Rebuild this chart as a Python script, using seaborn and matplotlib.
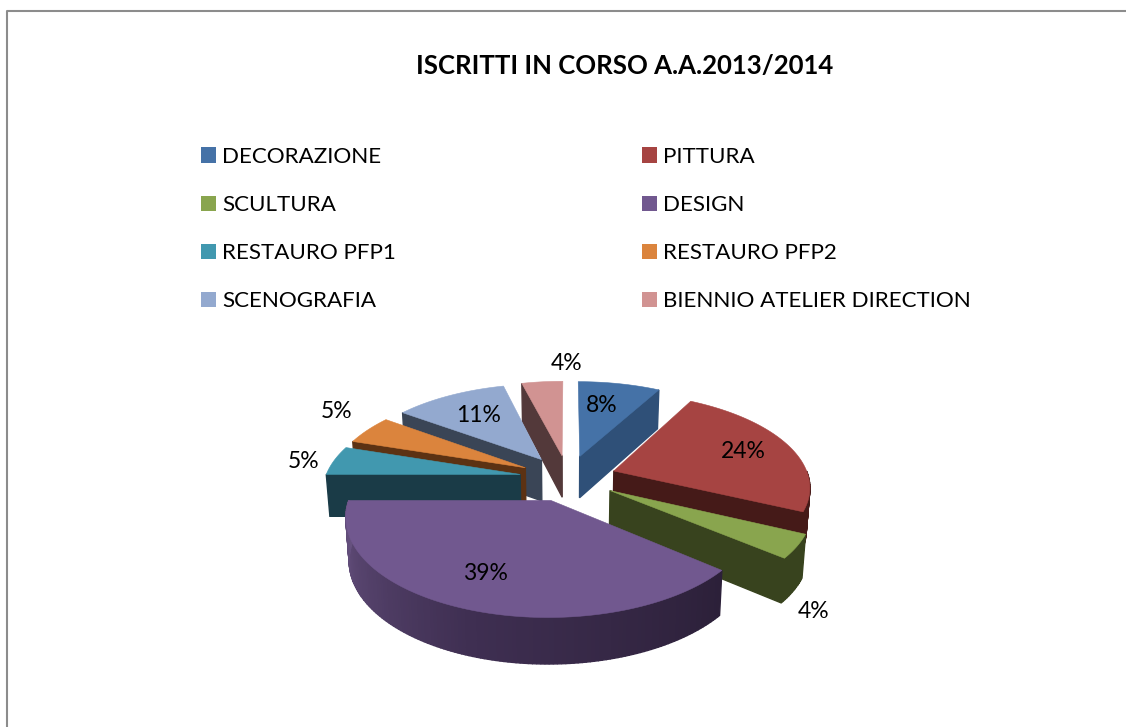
import numpy as np
import matplotlib
matplotlib.use("Agg")
import matplotlib.pyplot as plt
from matplotlib.patches import Patch
import seaborn as sns

#### Data ####
title = "ISCRITTI IN CORSO A.A.2013/2014"
categories = ["DECORAZIONE", "PITTURA", "SCULTURA", "DESIGN",
              "RESTAURO PFP1", "RESTAURO PFP2", "SCENOGRAFIA", "BIENNIO ATELIER DIRECTION"]
percent = [8, 24, 4, 39, 5, 5, 11, 4]

#### Style ####
top_colors = ["#4572A7", "#A64442", "#89A54E", "#71588F", "#4198AF", "#DB843D", "#93A9CF", "#D19392"]
wall_colors = ["#2F5078", "#451A18", "#38431E", "#2C2039", "#1A3B47", "#5C3213", "#3A4556", "#53393A"]
label_x = [602, 743, 814, 485, 304, 337, 479, 567]
label_y = [405, 451, 612, 573, 461, 411, 416, 364]

CX, CY = 568, 478   # pie centre on the page, px
RX, RY = 195, 92
PERSP = 0.15
EXPLODE = 0.25
DEPTH = 42

sns.set_theme(style="white")
plt.rcParams["font.family"] = ["Lato", "DejaVu Sans"]


def project(x, y, low=False):
    w = 1 + PERSP * y
    sx = CX + RX * x / w
    sy = CY - RY * y / w
    if low:
        sx = CX + (sx - CX) * 0.985
        sy = sy + DEPTH / np.sqrt(w)
    return sx, sy


def quad(ax, x0, y0, x1, y1, color, zorder):
    tx, ty = project(np.array([x0, x1]), np.array([y0, y1]))
    bx, by = project(np.array([x1, x0]), np.array([y1, y0]), low=True)
    ax.fill(np.r_[tx, bx], np.r_[ty, by], color=color, lw=1.0, zorder=zorder)


fig = plt.figure(figsize=(11.26, 7.27), dpi=100)
ax = fig.add_axes([0, 0, 1, 1])
ax.set_xlim(0, 1126)
ax.set_ylim(727, 0)
ax.axis("off")

# page frame, only top and left show in the crop
ax.plot([7, 7, 1126], [727, 11, 11], color="#8C8C8C", lw=1.5, zorder=1)

ax.text(625, 66, title, fontsize=18.5, fontweight="bold", ha="center", va="center", color="black")

# angles run clockwise from the top, as in the spreadsheet pie
edges = np.r_[0, np.cumsum(percent)] / np.sum(percent) * 360
slices = []
for i in range(len(percent)):
    a0, a1 = np.radians(edges[i]), np.radians(edges[i + 1])
    mid = (a0 + a1) / 2
    slices.append((np.cos(mid), i, a0, a1, mid))

z = 2
for _, i, a0, a1, mid in sorted(slices, key=lambda s: -s[0]):
    ox, oy = EXPLODE * np.sin(mid), EXPLODE * np.cos(mid)
    theta = np.linspace(a0, a1, max(int(np.degrees(a1 - a0)), 2) + 1)
    ax_x, ax_y = ox + np.sin(theta), oy + np.cos(theta)

    # radial walls that face the viewer
    if np.sin(a0) < 0:
        quad(ax, ox, oy, ax_x[0], ax_y[0], wall_colors[i], z)
    if np.sin(a1) > 0:
        quad(ax, ox, oy, ax_x[-1], ax_y[-1], wall_colors[i], z)

    # outer wall, shaded along the rim on the big slice
    n = len(theta) - 1
    if categories[i] == "DESIGN":
        shades = sns.blend_palette([wall_colors[i], "#3F2F52", "#66517F"], n)
    else:
        shades = [wall_colors[i]] * n
    for k in range(n):
        if np.cos((theta[k] + theta[k + 1]) / 2) < 0:
            quad(ax, ax_x[k], ax_y[k], ax_x[k + 1], ax_y[k + 1], shades[k], z + 1)

    tx, ty = project(np.r_[ox, ax_x], np.r_[oy, ax_y])
    ax.fill(tx, ty, color=top_colors[i], lw=0.4, zorder=z + 2)

    ax.text(label_x[i], label_y[i], f"{percent[i]}%", fontsize=16.5, ha="center", va="center",
            color="black", zorder=50)
    z += 3

# legend fills by column, so split the two rows up
order = [0, 2, 4, 6, 1, 3, 5, 7]
handles = [Patch(facecolor=top_colors[i], edgecolor="none", label=categories[i]) for i in order]
ax.legend(handles=handles, ncols=2, loc="upper left", bbox_to_anchor=(192 / 1126, 1 - 138 / 727),
          frameon=False, fontsize=16.1, handlelength=0.68, handleheight=0.68, handletextpad=0.27,
          labelspacing=1.26, columnspacing=11.0, labelcolor="black", borderpad=0.4, borderaxespad=0)

plt.savefig("out.png", dpi=100)
plt.close(fig)
